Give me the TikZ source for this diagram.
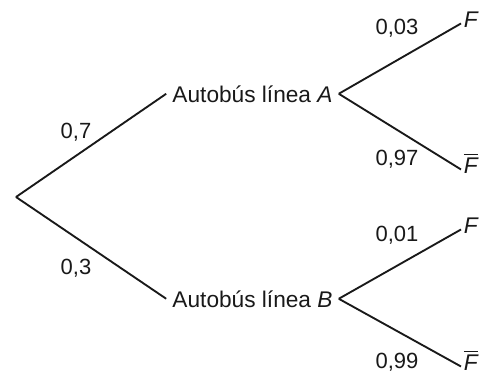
\documentclass[tikz,border=0pt]{standalone}
\usepackage{amsmath}
\usepackage{fontspec}
\setmainfont{Liberation Sans}

\begin{document}
\begin{tikzpicture}[x=0.75pt, y=-0.75pt, line width=1.4pt, black!90,
	prob/.style={font=\fontsize{16.5}{19}\selectfont},
	bus/.style={font=\fontsize{17}{20}\selectfont, inner sep=4pt, anchor=base},
	res/.style={font=\fontsize{17}{20}\selectfont\itshape, inner sep=1.5pt, anchor=base west}]
	\useasboundingbox (0,0) rectangle (482,376);
	\coordinate (root) at (16,197);
	\node[bus] (busA) at (252.5,102) {Autobús línea \textit{A}};
	\node[bus] (busB) at (252.5,307) {Autobús línea \textit{B}};
	\draw (root) -- (busA.west);
	\draw (root) -- (busB.west);
	\node[prob] (p7) at (76,132) {0,7};
	\node[prob] (p3) at (76,268) {0,3};
	% second stage: F or not F
	\node[res] (FA) at (461,27) {F};
	\node[res] (nFA) at (461,173) {$\overline{\mbox{\itshape F}}$};
	\node[res] (FB) at (461,233) {F};
	\node[res] (nFB) at (461,370) {$\overline{\mbox{\itshape F}}$};
	\draw (busA.east) -- (FA.mid west);
	\draw (busA.east) -- (nFA.mid west);
	\draw (busB.east) -- (FB.mid west);
	\draw (busB.east) -- (nFB.mid west);
	\node[prob] (p03) at (397,28) {0,03};
	\node[prob] (p97) at (397,159) {0,97};
	\node[prob] (p01) at (397,235) {0,01};
	\node[prob] (p99) at (397,362) {0,99};
\end{tikzpicture}
\end{document}
